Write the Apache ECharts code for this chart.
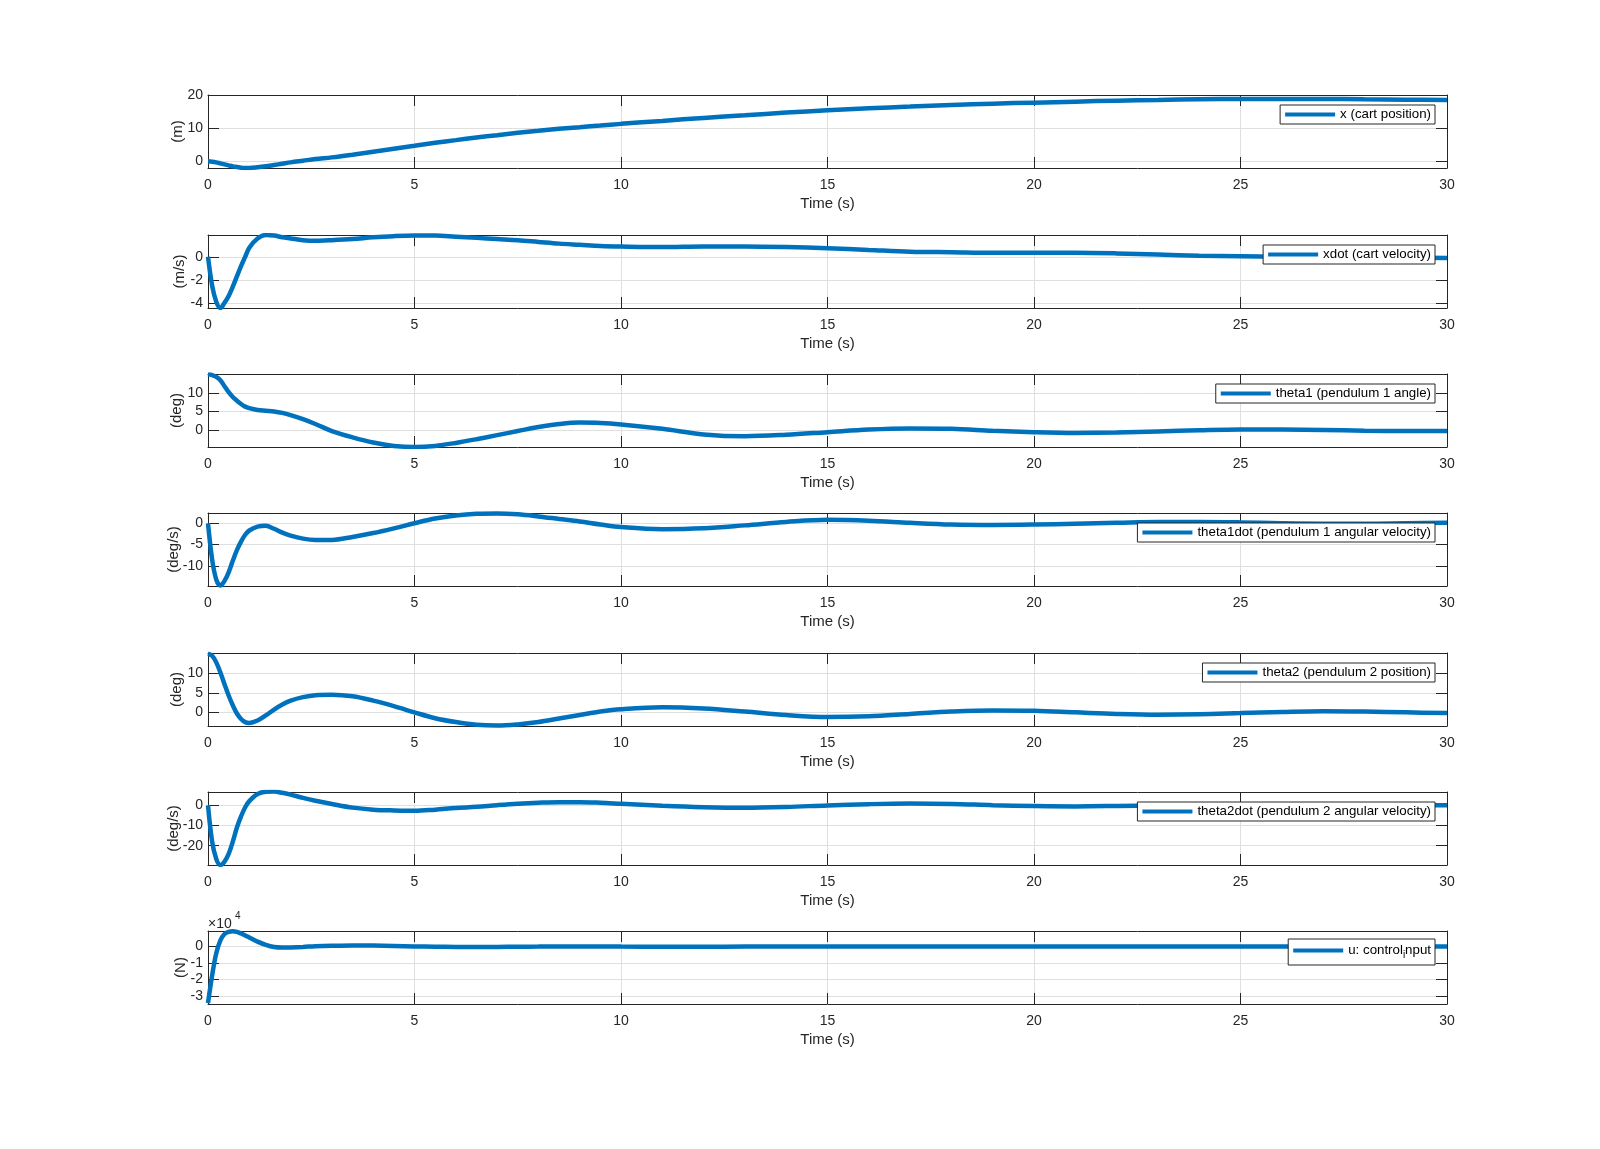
<!DOCTYPE html>
<html><head><meta charset="utf-8">
<script src="https://cdn.jsdelivr.net/npm/echarts@6/dist/echarts.min.js"></script>
<style>html,body{margin:0;padding:0;background:#fff}#c{width:1600px;height:1149px}</style>
</head><body><div id="c"></div>
<script>
// ---- data ----
const time = [0,0.1,0.2,0.3,0.4,0.5,0.6,0.7,0.8,0.9,1.0,1.2,1.4,1.6,1.8,2.0,2.3,2.6,3.0,3.5,4.0,4.5,5.0,5.5,6,6.5,7,7.5,8,8.5,9,9.5,10,11,12,13,14,15,16,17,18,19,20,21,22,23,24,25,26,27,28,29,30];
const cartPos = [0,-0.1,-0.3,-0.6,-0.9,-1.2,-1.5,-1.7,-1.9,-2.0,-2.0,-1.8,-1.5,-1.1,-0.7,-0.3,0.2,0.7,1.2,2.0,2.9,3.8,4.7,5.6,6.4,7.2,7.9,8.6,9.2,9.8,10.3,10.8,11.3,12.2,13.1,13.9,14.7,15.4,16.0,16.5,17.0,17.4,17.7,18.0,18.3,18.5,18.7,18.8,18.8,18.8,18.7,18.6,18.5];
const cartVel = [0,-2.5,-3.9,-4.45,-4.0,-3.4,-2.6,-1.7,-0.8,0.0,0.8,1.6,1.9,1.85,1.7,1.6,1.45,1.4,1.45,1.55,1.7,1.8,1.85,1.85,1.75,1.65,1.55,1.45,1.3,1.15,1.05,0.95,0.9,0.85,0.9,0.9,0.85,0.75,0.6,0.45,0.4,0.35,0.35,0.35,0.3,0.2,0.1,0.05,0.0,-0.05,-0.05,-0.05,-0.1];
const theta1 = [15,14.8,14.3,13.4,11.8,10.2,8.9,7.9,7.0,6.3,5.9,5.4,5.2,5.0,4.6,4.0,2.9,1.6,-0.3,-2.0,-3.4,-4.3,-4.6,-4.3,-3.5,-2.5,-1.4,-0.3,0.8,1.6,2.0,1.9,1.5,0.3,-1.2,-1.7,-1.3,-0.6,0.1,0.4,0.3,-0.2,-0.6,-0.8,-0.7,-0.4,-0.1,0.1,0.1,0.0,-0.2,-0.3,-0.3];
const theta1dot = [0,-8.5,-13.2,-14.6,-13.5,-11.5,-8.8,-6.3,-4.3,-2.7,-1.7,-0.8,-0.6,-1.3,-2.2,-2.9,-3.6,-3.9,-3.9,-3.2,-2.3,-1.2,0.0,1.1,1.8,2.2,2.3,2.1,1.6,1.0,0.4,-0.3,-0.9,-1.4,-1.2,-0.5,0.3,0.8,0.6,0.1,-0.3,-0.4,-0.3,-0.1,0.1,0.3,0.3,0.2,0.0,-0.1,-0.1,0.0,0.1];
const theta2 = [15,14.5,12.8,10.2,7.2,4.3,1.8,-0.3,-1.7,-2.5,-2.7,-2.1,-0.8,0.7,2.0,3.0,3.9,4.4,4.5,4.1,3.0,1.6,0.0,-1.5,-2.5,-3.2,-3.4,-3.1,-2.5,-1.6,-0.7,0.2,0.8,1.3,1.0,0.2,-0.7,-1.2,-1.0,-0.4,0.2,0.5,0.4,0.0,-0.4,-0.6,-0.5,-0.2,0.1,0.3,0.2,0.0,-0.2];
const theta2dot = [0,-18,-26.5,-29.5,-27.8,-24,-18,-11,-5.5,-1,2,5.5,6.6,6.7,6.1,5.2,3.6,2.2,0.6,-1.2,-2.2,-2.6,-2.8,-2.2,-1.4,-0.8,0.0,0.7,1.2,1.5,1.5,1.2,0.7,-0.3,-1.0,-1.3,-0.9,-0.1,0.5,0.8,0.6,0.0,-0.4,-0.6,-0.4,-0.1,0.2,0.3,0.2,0.0,-0.1,-0.1,0.0];
const controlU = [-34500,-17500,-4000,3800,7700,9000,9400,9000,8000,6800,5500,3000,1000,-300,-600,-500,-200,200,500,700,600,400,100,-100,-200,-200,-200,-100,0,100,100,100,0,-100,-100,0,0,0,0,0,0,0,0,0,0,0,0,0,0,0,0,0,0];

const seriesNames = ['x (cart position)','xdot (cart velocity)','theta1 (pendulum 1 angle)','theta1dot (pendulum 1 angular velocity)','theta2 (pendulum 2 position)','theta2dot (pendulum 2 angular velocity)','u: control_input'];
const yUnits = ['(m)','(m/s)','(deg)','(deg/s)','(deg)','(deg/s)','(N)'];
const yMins = [-2,-4.45,-4.6,-14.7,-3.5,-29.5,-35000];
const yMaxs = [20,1.9,15.1,2.4,15.2,6.5,9500];
const yTicks = [[0,10,20],[-4,-2,0],[0,5,10],[-10,-5,0],[0,5,10],[-20,-10,0],[-30000,-20000,-10000,0]];
const xLabel = 'Time (s)';
const xMin = 0, xMax = 30, xStep = 5;

// ---- layout ----
const values = [cartPos,cartVel,theta1,theta1dot,theta2,theta2dot,controlU];
const tops = [95,235,374,513,653,792,931];
const plotH = 73, plotL = 208, plotR = 153;
const nameGaps = [23,21,24,27,24,27,20];
const FONT = '"Liberation Sans", Arial, Helvetica, sans-serif';
const AX = '#262626', GRID = '#dfdfdf', BLUE = '#0072BD';

const grid=[], xAxis=[], yAxis=[], series=[], legend=[];
values.forEach((vals,i)=>{
  grid.push({left:plotL,right:plotR,top:tops[i],height:plotH,show:false,outerBoundsMode:'none',containLabel:false});
  const tickCommon = {show:true,inside:true,length:11,lineStyle:{color:AX,width:1}};
  const lineCommon = {show:true,onZero:false,lineStyle:{color:AX,width:1}};
  xAxis.push({gridIndex:i,type:'value',min:xMin,max:xMax,interval:xStep,position:'bottom',
    axisLine:lineCommon,axisTick:tickCommon,
    axisLabel:{color:AX,fontSize:14,fontFamily:FONT,margin:10},
    splitLine:{show:true,lineStyle:{color:GRID,width:1}},
    name:xLabel,nameLocation:'middle',nameGap:28,nameMoveOverlap:false,
    nameTextStyle:{color:AX,fontSize:15,fontFamily:FONT}});
  xAxis.push({gridIndex:i,type:'value',min:xMin,max:xMax,interval:xStep,position:'top',
    axisLine:lineCommon,axisTick:tickCommon,axisLabel:{show:false},splitLine:{show:false}});
  const fmt = i===6 ? (v=>String(Math.round(v/10000))) : (v=>String(v));
  yAxis.push({gridIndex:i,type:'value',min:yMins[i],max:yMaxs[i],position:'left',
    axisLine:lineCommon,axisTick:Object.assign({customValues:yTicks[i]},tickCommon),
    axisLabel:{customValues:yTicks[i],color:AX,fontSize:14,fontFamily:FONT,margin:5,formatter:fmt},
    splitLine:{show:true,lineStyle:{color:GRID,width:1}},
    name:yUnits[i],nameLocation:'middle',nameGap:nameGaps[i],nameRotate:90,nameMoveOverlap:false,
    nameTextStyle:{color:AX,fontSize:15,fontFamily:FONT}});
  yAxis.push({gridIndex:i,type:'value',min:yMins[i],max:yMaxs[i],position:'right',
    axisLine:lineCommon,axisTick:Object.assign({customValues:yTicks[i]},tickCommon),
    axisLabel:{show:false,customValues:yTicks[i]},splitLine:{show:false}});
  series.push({name:seriesNames[i],type:'line',xAxisIndex:2*i,yAxisIndex:2*i,
    data:time.map((t,k)=>[t,vals[k]]),smooth:0.35,showSymbol:false,symbol:'none',
    lineStyle:{color:BLUE,width:4.5},itemStyle:{color:BLUE},clip:true,animation:false,z:3});
  const lg = {data:[seriesNames[i]],right:165,top:tops[i]+10,orient:'vertical',icon:'rect',
    itemWidth:50,itemHeight:4,backgroundColor:'#fff',borderColor:AX,borderWidth:1,borderRadius:0,
    padding:[3,4,3,5],selectedMode:false,z:10,
    textStyle:{fontSize:13.3,color:'#000',fontFamily:FONT}};
  if(i===6){
    lg.top = tops[i]+8;
    lg.padding = [5,4,5,5];
    lg.formatter = ()=> '{a|u: control}{s|i}{a|nput}';
    lg.textStyle.rich = {a:{fontSize:13.3,color:'#000',fontFamily:FONT},s:{fontSize:10,color:'#000',fontFamily:FONT,padding:[9,0,0,0]}};
  }
  legend.push(lg);
});

const chart = echarts.init(document.getElementById('c'),null,{renderer:'canvas',width:1600,height:1149});
chart.setOption({
  animation:false,backgroundColor:'#fff',
  textStyle:{fontFamily:FONT},
  grid,xAxis,yAxis,series,legend,
  graphic:[
    {type:'text',left:208,top:917,style:{text:'×10',fill:AX,fontSize:14,fontFamily:FONT}},
    {type:'text',left:235,top:911,style:{text:'4',fill:AX,fontSize:10,fontFamily:FONT}}
  ]
});
</script></body></html>
